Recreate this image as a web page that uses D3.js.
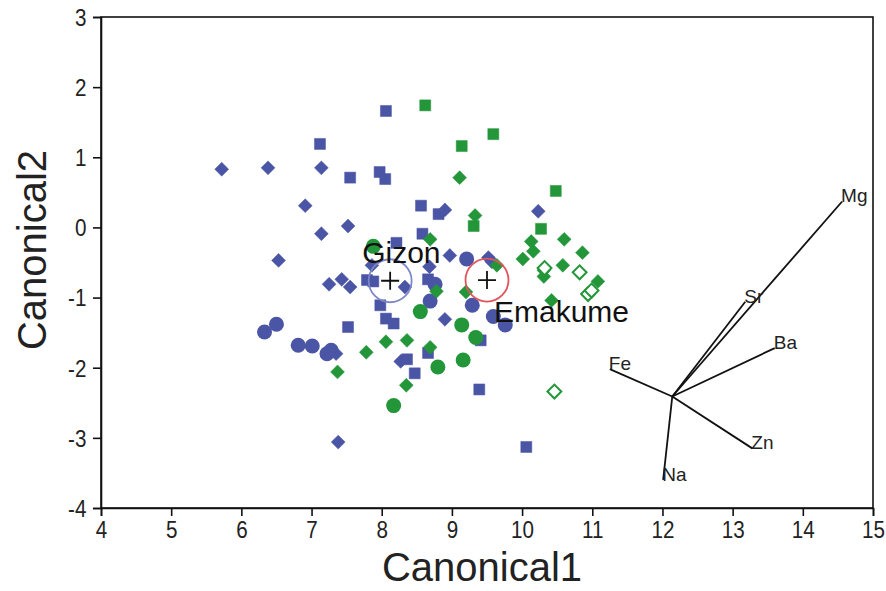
<!DOCTYPE html>
<html>
<head>
<meta charset="utf-8">
<script src="https://cdn.jsdelivr.net/npm/d3@7"></script>
<style>
  html, body { margin: 0; padding: 0; background: #fff; }
  svg { display: block; font-family: "Liberation Sans", Arial, sans-serif; }
</style>
</head>
<body>
<svg id="chart" width="886" height="591"></svg>
<script>
// Canonical discriminant scores, one array per group and marker shape: [Canonical1, Canonical2]
const gizonDiamonds = [
  [5.72, 0.83], [6.38, 0.85], [7.14, 0.85], [6.91, 0.31], [7.52, 0.02], [7.14, -0.09],
  [6.53, -0.47], [7.86, -0.54], [7.25, -0.81], [7.43, -0.74], [7.55, -0.85], [8.33, -0.85],
  [8.68, -0.56], [8.97, -0.40], [8.90, 0.25], [9.52, -0.43], [9.57, -0.49], [10.23, 0.23],
  [8.90, -1.31], [8.27, -1.91], [7.35, -1.80], [7.38, -3.06]
];
const gizonSquares = [
  [7.12, 1.19], [8.06, 1.66], [7.55, 0.71], [7.97, 0.79], [8.05, 0.69], [8.56, 0.31],
  [8.81, 0.19], [8.58, -0.09], [8.21, -0.22], [7.79, -0.75], [7.88, -0.77], [8.66, -0.74],
  [7.98, -1.11], [8.06, -1.30], [8.17, -1.37], [7.52, -1.42], [8.36, -1.88], [8.66, -1.79],
  [8.47, -2.08], [9.41, -1.61], [9.39, -2.31], [10.06, -3.13]
];
const gizonCircles = [
  [6.33, -1.49], [6.50, -1.38], [6.81, -1.68], [7.01, -1.69], [7.22, -1.80], [7.28, -1.75],
  [8.76, -0.81], [8.69, -1.05], [9.21, -0.45], [9.29, -1.11], [9.59, -1.27], [9.76, -1.39]
];
const emakumeDiamonds = [
  [9.11, 0.71], [9.33, 0.17], [8.69, -0.17], [8.78, -0.91], [9.20, -0.92], [9.64, -0.54],
  [10.01, -0.45], [10.13, -0.20], [10.16, -0.34], [10.60, -0.17], [10.86, -0.36], [10.31, -0.61],
  [10.31, -0.70], [10.58, -0.54], [11.08, -0.77], [10.42, -1.04], [8.06, -1.63], [8.36, -1.61],
  [7.78, -1.78], [8.69, -1.71], [7.37, -2.06], [8.35, -2.25]
];
const emakumeSquares = [
  [8.62, 1.74], [9.59, 1.33], [9.14, 1.16], [9.31, 0.02], [10.27, -0.02], [10.48, 0.52]
];
const emakumeCircles = [
  [7.88, -0.27], [8.55, -1.20], [9.14, -1.39], [9.34, -1.57], [9.16, -1.89], [8.80, -1.99],
  [8.17, -2.54]
];
const emakumeOpenDiamonds = [
  [10.32, -0.58], [10.82, -0.64], [10.94, -0.95], [10.99, -0.90], [10.46, -2.34]
];

// Group centroids
const centroidNames = ["Gizon", "Emakume"];
const centroidValues = [[8.12, -0.76], [9.50, -0.75]];

// Biplot vectors for the elements, drawn from a common origin
const biplotOrigin = [12.14, -2.41];
const elementNames = ["Mg", "Sr", "Ba", "Fe", "Zn", "Na"];
const elementEnds = [[14.56, 0.37], [13.18, -1.06], [13.60, -1.72], [11.25, -2.02], [13.28, -3.15], [12.01, -3.60]];

// Axis ticks
const xTicks = [4, 5, 6, 7, 8, 9, 10, 11, 12, 13, 14, 15];
const yTicks = [-4, -3, -2, -1, 0, 1, 2, 3];

const BLUE = "#4b55a5";
const GREEN = "#24963a";

const svg = d3.select("#chart");
const plot = { left: 101, right: 873, top: 17, bottom: 508 };

const x = d3.scaleLinear().domain([4, 15]).range([plot.left, plot.right]);
const y = d3.scaleLinear().domain([-4, 3]).range([plot.bottom, plot.top]);

// Frame
svg.append("rect")
  .attr("x", plot.left).attr("y", plot.top)
  .attr("width", plot.right - plot.left).attr("height", plot.bottom - plot.top)
  .attr("fill", "none").attr("stroke", "#111").attr("stroke-width", 1.6);

// Axes (plain hyphen for negatives)
const fmt = d => String(d);
const xAxis = svg.append("g")
  .attr("transform", `translate(0,${plot.bottom})`)
  .call(d3.axisBottom(x).tickValues(xTicks).tickFormat(fmt).tickSizeOuter(0).tickSize(8).tickPadding(5));
const yAxis = svg.append("g")
  .attr("transform", `translate(${plot.left},0)`)
  .call(d3.axisLeft(y).tickValues(yTicks).tickFormat(fmt).tickSizeOuter(0).tickSize(8).tickPadding(9));

[xAxis, yAxis].forEach(g => {
  g.select(".domain").attr("stroke", "#111").attr("stroke-width", 1.6);
  g.selectAll(".tick line").attr("stroke", "#111").attr("stroke-width", 1.6);
  // narrow-looking tick digits
  g.selectAll(".tick text").attr("fill", "#222").style("font-size", "24px")
    .attr("transform", "scale(0.86,1)");
});
yAxis.selectAll(".tick text").attr("dy", "0.35em");

// Axis titles
svg.append("text")
  .attr("x", (plot.left + plot.right) / 2 - 5).attr("y", 581)
  .attr("text-anchor", "middle").attr("fill", "#222")
  .style("font-size", "40px").text("Canonical1");
svg.append("text")
  .attr("transform", `translate(46,250) rotate(-90)`)
  .attr("text-anchor", "middle").attr("fill", "#222")
  .style("font-size", "40px").text("Canonical2");

// Markers
const diamond = d3.symbol().type(d3.symbolSquare).size(96);
const square = d3.symbol().type(d3.symbolSquare).size(121);
const marks = svg.append("g");

function drawDiamonds(data, color, open) {
  marks.append("g").selectAll("path").data(data).join("path")
    .attr("d", diamond)
    .attr("transform", d => `translate(${x(d[0])},${y(d[1])}) rotate(45)`)
    .attr("fill", open ? "#fff" : color)
    .attr("stroke", color).attr("stroke-width", open ? 2 : 0.5);
}
function drawSquares(data, color) {
  marks.append("g").selectAll("path").data(data).join("path")
    .attr("d", square)
    .attr("transform", d => `translate(${x(d[0])},${y(d[1])})`)
    .attr("fill", color).attr("stroke", color).attr("stroke-width", 0.5);
}
function drawCircles(data, color) {
  marks.append("g").selectAll("circle").data(data).join("circle")
    .attr("cx", d => x(d[0])).attr("cy", d => y(d[1])).attr("r", 7.5)
    .attr("fill", color);
}

drawDiamonds(gizonDiamonds, BLUE, false);
drawSquares(gizonSquares, BLUE);
drawCircles(gizonCircles, BLUE);
drawDiamonds(emakumeDiamonds, GREEN, false);
drawSquares(emakumeSquares, GREEN);
drawCircles(emakumeCircles, GREEN);
drawDiamonds(emakumeOpenDiamonds, GREEN, true);

// Centroid rings with crosses
const ringColors = ["#7d87c6", "#e0545c"];
const cent = svg.append("g");
centroidValues.forEach((c, i) => {
  const cx = x(c[0]), cy = y(c[1]);
  cent.append("circle").attr("cx", cx).attr("cy", cy).attr("r", 21.5)
    .attr("fill", "none").attr("stroke", ringColors[i]).attr("stroke-width", 1.8);
  cent.append("path")
    .attr("d", `M${cx - 9},${cy}H${cx + 9}M${cx},${cy - 9}V${cy + 9}`)
    .attr("stroke", "#111").attr("stroke-width", 1.8);
});
svg.append("text").attr("x", x(centroidValues[0][0]) - 28).attr("y", y(centroidValues[0][1]) - 18)
  .attr("fill", "#111").style("font-size", "30px").text(centroidNames[0]);
svg.append("text").attr("x", x(centroidValues[1][0]) + 7).attr("y", y(centroidValues[1][1]) + 42)
  .attr("fill", "#111").style("font-size", "30px").text(centroidNames[1]);

// Element vectors
const bip = svg.append("g");
elementEnds.forEach((e, i) => {
  bip.append("line")
    .attr("x1", x(biplotOrigin[0])).attr("y1", y(biplotOrigin[1]))
    .attr("x2", x(e[0])).attr("y2", y(e[1]))
    .attr("stroke", "#111").attr("stroke-width", 1.8);
  bip.append("text")
    .attr("x", x(e[0]) - 1).attr("y", y(e[1]) + 1)
    .attr("fill", "#222").style("font-size", "19px").text(elementNames[i]);
});
</script>
</body>
</html>
